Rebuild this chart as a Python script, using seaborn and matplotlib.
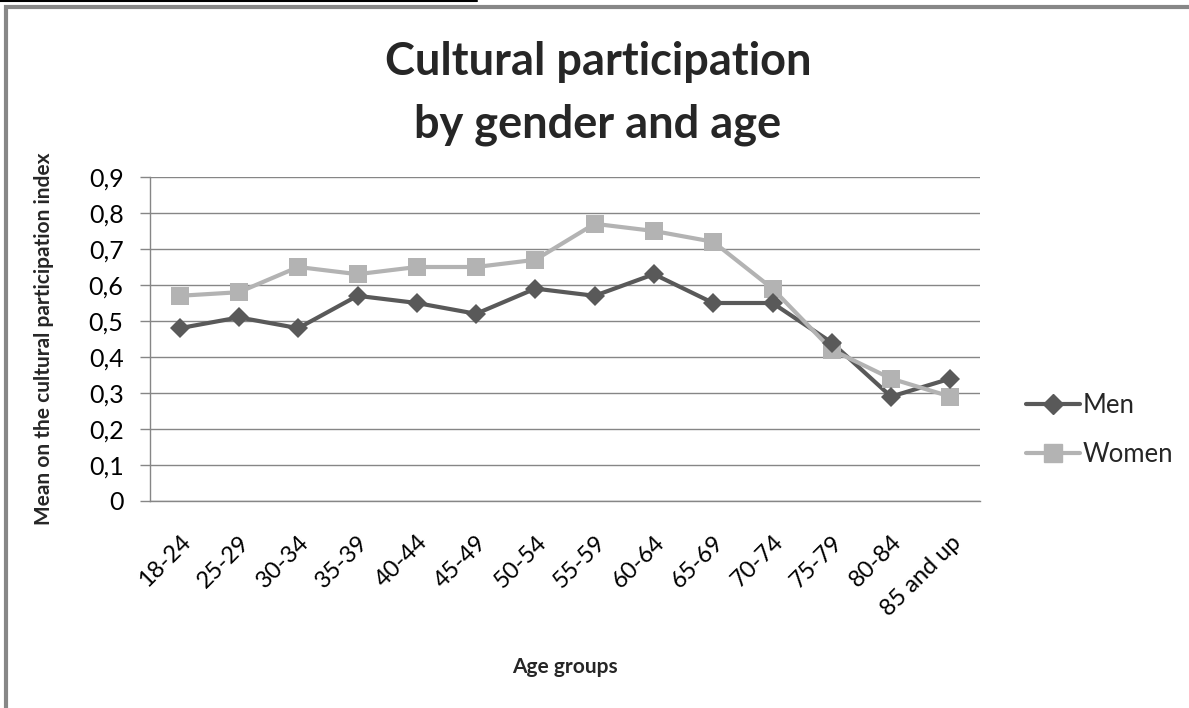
import matplotlib
matplotlib.use("Agg")
import matplotlib.pyplot as plt
import seaborn as sns
import pandas as pd
from matplotlib.patches import Rectangle
from matplotlib.lines import Line2D

# Data
age_groups = ["18-24", "25-29", "30-34", "35-39", "40-44", "45-49", "50-54",
              "55-59", "60-64", "65-69", "70-74", "75-79", "80-84", "85 and up"]
men = [0.48, 0.51, 0.48, 0.57, 0.55, 0.52, 0.59, 0.57, 0.63, 0.55, 0.55, 0.44, 0.29, 0.34]
women = [0.57, 0.58, 0.65, 0.63, 0.65, 0.65, 0.67, 0.77, 0.75, 0.72, 0.59, 0.42, 0.34, 0.29]
y_ticks = [0, 0.1, 0.2, 0.3, 0.4, 0.5, 0.6, 0.7, 0.8, 0.9]
y_tick_labels = ["0", "0,1", "0,2", "0,3", "0,4", "0,5", "0,6", "0,7", "0,8", "0,9"]
title_lines = ["Cultural participation", "by gender and age"]

df = pd.DataFrame({"Age": age_groups * 2,
                   "Mean": men + women,
                   "Gender": ["Men"] * len(men) + ["Women"] * len(women)})

sns.set_theme(style="white")
plt.rcParams["font.family"] = ["Lato", "DejaVu Sans"]

men_color = "#595959"
women_color = "#b3b3b3"
grid_color = "#868686"

fig = plt.figure(figsize=(11.89, 7.08), dpi=100)
ax = fig.add_axes([150 / 1189, 1 - 501 / 708, 830 / 1189, 324 / 708])

sns.lineplot(data=df, x="Age", y="Mean", hue="Gender",
             palette={"Men": men_color, "Women": women_color},
             linewidth=3, ax=ax, legend=False, sort=False)

# markers drawn separately for size control
ax.plot(range(len(men)), men, linestyle="none", marker="D", markersize=10,
        color=men_color, markeredgewidth=0, zorder=4)
ax.plot(range(len(women)), women, linestyle="none", marker="s", markersize=12.5,
        color=women_color, markeredgewidth=0, zorder=3)

ax.set_xlim(-0.5, len(age_groups) - 0.5)
ax.set_ylim(0, 0.9)
ax.set_yticks(y_ticks)
ax.set_yticklabels(y_tick_labels, fontsize=18)
ax.set_xticks(range(len(age_groups)))
ax.set_xticklabels(age_groups, rotation=45, ha="right", rotation_mode="anchor", fontsize=17)
ax.set_xticks([i - 0.5 for i in range(len(age_groups) + 1)], minor=True)
ax.tick_params(axis="x", which="major", length=0, pad=22)
ax.tick_params(axis="x", which="minor", length=7, width=1, color=grid_color, direction="out")
ax.tick_params(axis="y", length=7, width=1, color=grid_color, direction="out", left=True, pad=12)
ax.tick_params(axis="both", labelcolor="black")

ax.yaxis.grid(True, color=grid_color, linewidth=1)
ax.set_axisbelow(True)
for side in ["top", "right"]:
    ax.spines[side].set_visible(False)
for side in ["left", "bottom"]:
    ax.spines[side].set_color(grid_color)
    ax.spines[side].set_linewidth(1)

ax.set_xlabel("Age groups", fontsize=15, fontweight="bold", labelpad=27)
ax.set_ylabel("Mean on the cultural participation index", fontsize=15,
              fontweight="bold", labelpad=25)

# two-line title, placed by baseline
fig.text(598 / 1189, 1 - 75 / 708, title_lines[0], ha="center", va="baseline",
         fontsize=32.5, fontweight="bold")
fig.text(598 / 1189, 1 - 137 / 708, title_lines[1], ha="center", va="baseline",
         fontsize=32.5, fontweight="bold")

handles = [Line2D([], [], color=men_color, lw=3, marker="D", markersize=10),
           Line2D([], [], color=women_color, lw=3, marker="s", markersize=12.5)]
fig.legend(handles, ["Men", "Women"], loc="center left",
           bbox_to_anchor=(1003 / 1189, 1 - 430 / 708), frameon=False,
           fontsize=18.5, handlelength=2.1, handletextpad=0.1, labelspacing=0.9)

# outer frame and cut-off caption line
fig.patches.append(Rectangle((6 / 1189, -0.1), 1.2, 1 - 7 / 708 + 0.1,
                             transform=fig.transFigure, fill=False,
                             edgecolor="#878787", linewidth=3))
fig.lines.append(Line2D([0, 477 / 1189], [1 - 1 / 708, 1 - 1 / 708],
                        transform=fig.transFigure, color="black", linewidth=1.5))

fig.savefig("out.png", dpi=100)
